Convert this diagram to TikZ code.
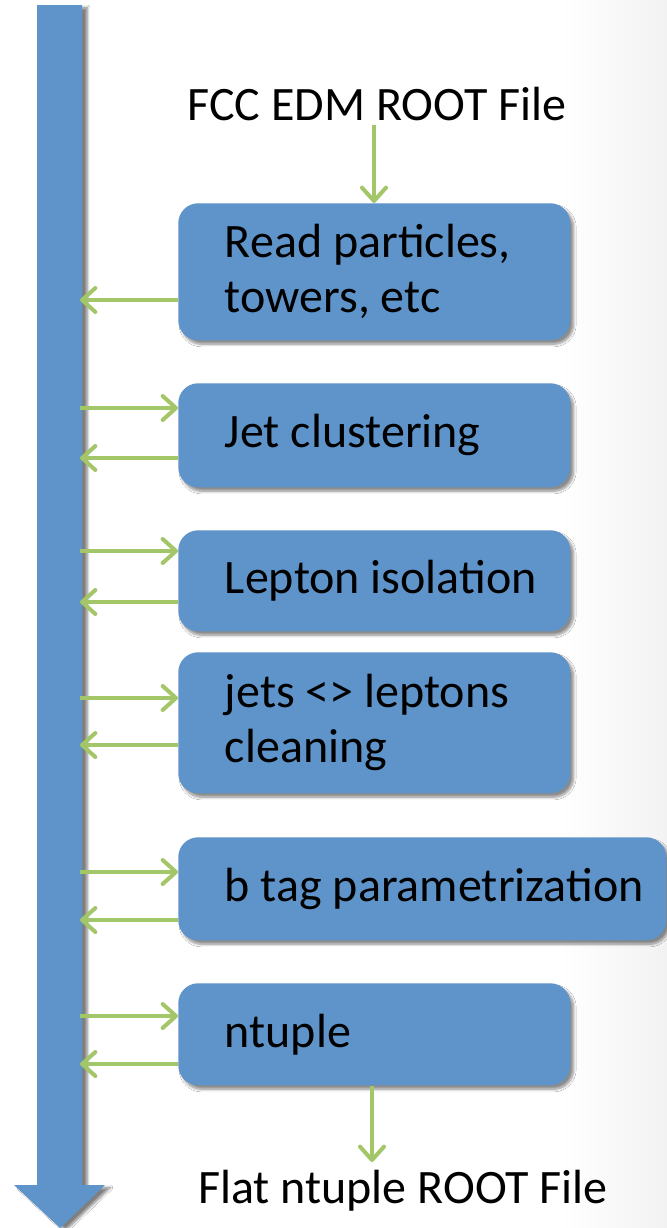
\documentclass[tikz,border=0pt]{standalone}
\usepackage{fontspec}
\setmainfont{Carlito}
\usetikzlibrary{arrows.meta,shadows,shadows.blur}
\definecolor{boxblue}{RGB}{94,148,201}
\definecolor{flowgreen}{RGB}{163,198,104}
\tikzset{
  stepbox/.style={fill=boxblue, rounded corners=15pt, anchor=north west,
    align=flush left, inner xsep=0pt, font=\fontsize{36}{41.25}\selectfont,
    execute at begin node={\leftskip=35pt\relax},
    blur shadow={shadow xshift=2.5pt, shadow yshift=-3pt, shadow blur steps=8, shadow opacity=45}},
  flow/.style={draw=flowgreen, line width=3pt,
    -{Straight Barb[length=10pt, width=18pt, round]}},
  outer/.style={font=\fontsize{36}{41.25}\selectfont, anchor=base, inner sep=0pt}
}
\begin{document}
\begin{tikzpicture}[x=0.75pt, y=-0.75pt]
  % page and faint grey fade at the right edge
  \fill[white] (0,0) rectangle (667,1228);
  \shade[left color=white, right color=black!5] (560,0) rectangle (667,1228);
  \useasboundingbox (0,0) rectangle (667,1228);

  % main downward pipeline arrow
  \fill[boxblue, blur shadow={shadow xshift=4pt, shadow yshift=-2pt, shadow blur steps=8, shadow opacity=50}]
    (37,5) -- (82,5) -- (82,1185) -- (105,1185) -- (60,1228) -- (14,1185) -- (37,1185) -- cycle;

  % processing steps
  \node[stepbox, minimum height=102.75pt, text width=294pt] (b1) at (178,203)
    {Read particles,\\towers, etc};
  \node[stepbox, minimum height=78pt, text width=294pt] (b2) at (178,383)
    {Jet clustering};
  \node[stepbox, minimum height=75.75pt, text width=294pt] (b3) at (178,530)
    {Lepton isolation};
  \node[stepbox, minimum height=105.75pt, text width=294pt] (b4) at (178,652)
    {jets <> leptons\\cleaning};
  \node[stepbox, minimum height=77.25pt, text width=366pt] (b5) at (178,837)
    {b tag parametrization};
  \node[stepbox, minimum height=76.5pt, text width=294pt] (b6) at (178,983)
    {ntuple};

  % input and output files
  \node[outer] (infile) at (377,120) {FCC EDM ROOT File};
  \node[outer] (outfile) at (403,1203) {Flat ntuple ROOT File};

  % attachment points on the pipeline
  \coordinate (o1) at (80,300);
  \coordinate (i2) at (80,408);  \coordinate (o2) at (80,458);
  \coordinate (i3) at (80,551);  \coordinate (o3) at (80,602);
  \coordinate (i4) at (80,698);  \coordinate (o4) at (80,745);
  \coordinate (i5) at (80,872);  \coordinate (o5) at (80,920);
  \coordinate (i6) at (80,1016); \coordinate (o6) at (80,1064);

  % data flow
  \draw[flow] (b1.west |- o1) -- (o1);
  \draw[flow] (i2) -- (b2.west |- i2);
  \draw[flow] (b2.west |- o2) -- (o2);
  \draw[flow] (i3) -- (b3.west |- i3);
  \draw[flow] (b3.west |- o3) -- (o3);
  \draw[flow] (i4) -- (b4.west |- i4);
  \draw[flow] (b4.west |- o4) -- (o4);
  \draw[flow] (i5) -- (b5.west |- i5);
  \draw[flow] (b5.west |- o5) -- (o5);
  \draw[flow] (i6) -- (b6.west |- i6);
  \draw[flow] (b6.west |- o6) -- (o6);

  \coordinate (inend) at (374,125);
  \coordinate (outend) at (372,1162);
  \draw[flow] (inend) -- (b1.north -| inend);
  \draw[flow] (b6.south -| outend) -- (outend);
\end{tikzpicture}
\end{document}
